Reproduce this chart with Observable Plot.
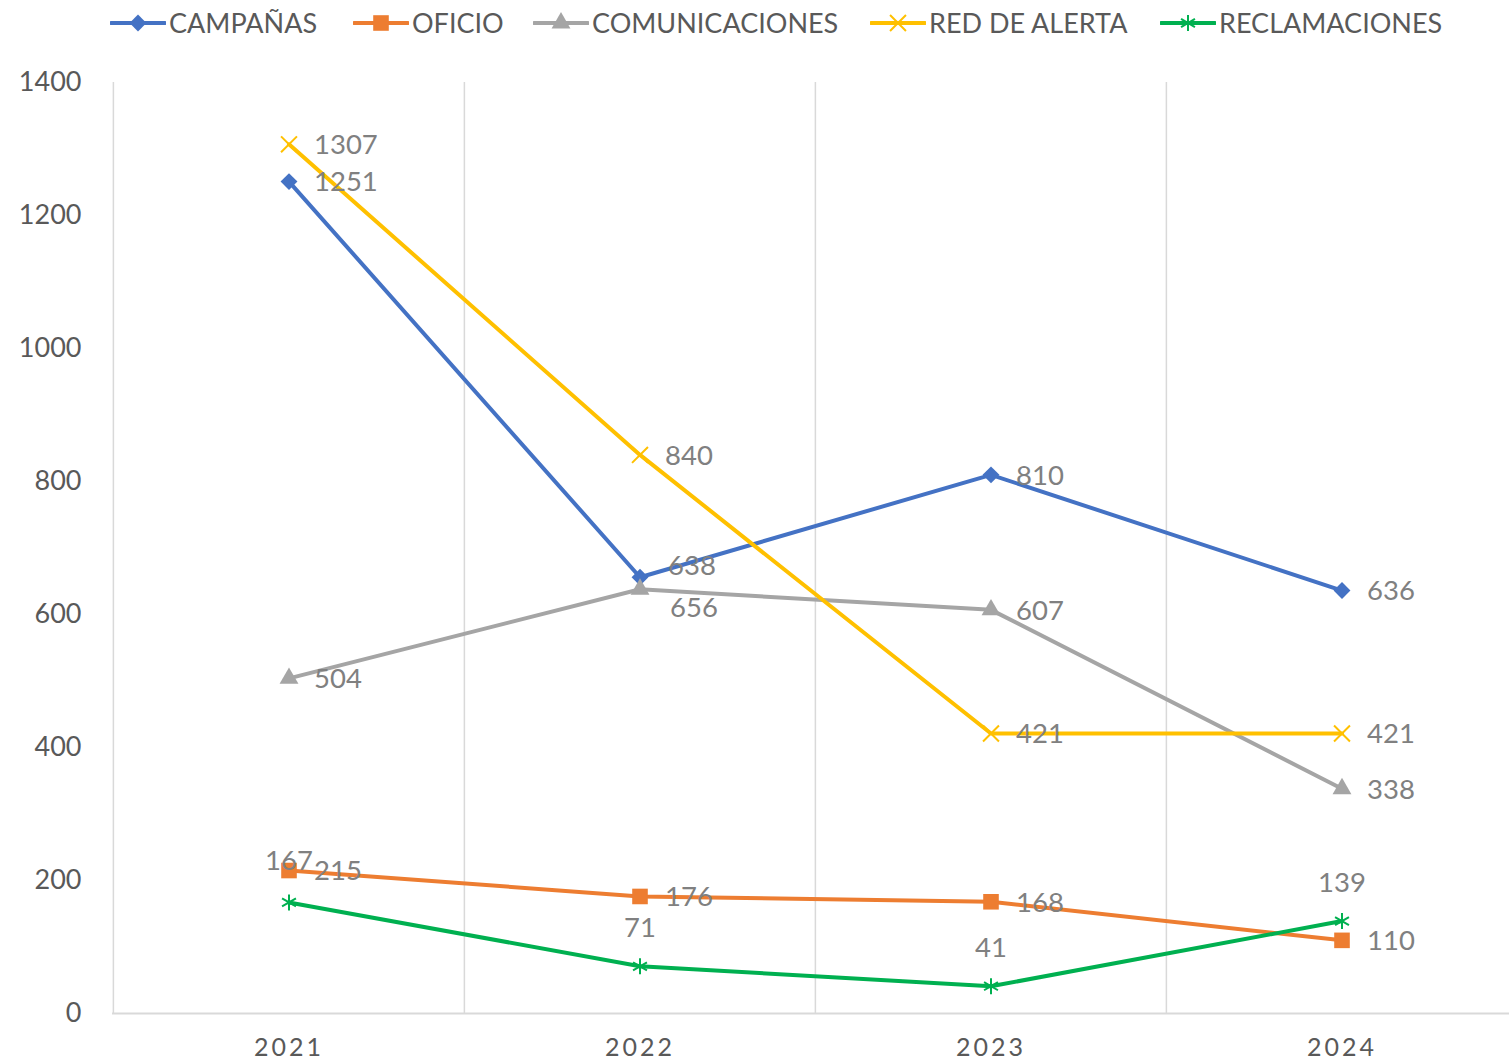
<!DOCTYPE html>
<html>
<head>
<meta charset="utf-8">
<script src="https://cdn.jsdelivr.net/npm/d3@7"></script>
<script src="https://cdn.jsdelivr.net/npm/@observablehq/plot@0.6"></script>
<style>
  html, body { margin: 0; padding: 0; background: #fff; }
  body { width: 1509px; height: 1063px; overflow: hidden; font-family: Lato, "Open Sans", sans-serif; }
  #legend { position: relative; height: 45px; width: 1509px; }
  .item { position: absolute; top: 0; height: 45px; display: flex; align-items: center; font-size: 27px; color: #595959; }
  .item svg { margin-right: 3px; }
  #chart svg { display: block; }
  #chart g[aria-label="x-axis tick label"] text { letter-spacing: 3px; }
</style>
</head>
<body>
<div id="legend"></div>
<div id="chart"></div>
<script>
const years = ["2021", "2022", "2023", "2024"];
const seriesNames = ["CAMPAÑAS", "OFICIO", "COMUNICACIONES", "RED DE ALERTA", "RECLAMACIONES"];
const campanas = [1251, 656, 810, 636];
const oficio = [215, 176, 168, 110];
const comunicaciones = [504, 638, 607, 338];
const redAlerta = [1307, 840, 421, 421];
const reclamaciones = [167, 71, 41, 139];
const yTicks = [0, 200, 400, 600, 800, 1000, 1200, 1400];

const seriesValues = [campanas, oficio, comunicaciones, redAlerta, reclamaciones];
const colors = ["#4472C4", "#ED7D31", "#A5A5A5", "#FFC000", "#00B050"];
const symbols = ["diamond2", "square", "triangle", "times", "asterisk"];
const filled = [true, true, true, false, false];
const radii = [7.6, 8.8, 7.0, 7.3, 7.6];

const data = [];
seriesNames.forEach((s, i) => years.forEach((y, j) => data.push({series: s, year: y, value: seriesValues[i][j]})));

// label placement logic (Excel-style)
function labelPos(d) {
  if (d.series === "RECLAMACIONES") return {dx: 0, dy: d.year === "2021" ? -41 : -38, anchor: "middle"};
  if (d.series === "CAMPAÑAS" && d.year === "2022") return {dx: 30, dy: 31, anchor: "start"};
  if (d.series === "COMUNICACIONES" && d.year === "2022") return {dx: 28, dy: -23, anchor: "start"};
  return {dx: 25, dy: 1, anchor: "start"};
}

const W = 1509, H = 1018;
const xRange = [112, 1517];
const bw = (xRange[1] - xRange[0]) / years.length;

const marks = [
  Plot.ruleX(years, {x: d => d, dx: -bw / 2, stroke: "#d9d9d9", strokeWidth: 1.5}),
  Plot.ruleY([0], {stroke: "#d9d9d9", strokeWidth: 2}),
  Plot.axisY({ticks: yTicks, tickSize: 0, tickPadding: 31, fontSize: 27, color: "#595959", label: null, tickFormat: d => String(d)}),
  Plot.axisX({tickSize: 0, tickPadding: 25, fontSize: 25, color: "#595959", label: null}),
  Plot.line(data, {x: "year", y: "value", z: "series", stroke: "series", strokeWidth: 4, strokeLinejoin: "round"})
];
seriesNames.forEach((s, i) => {
  const sub = data.filter(d => d.series === s);
  marks.push(Plot.dot(sub, {
    x: "year", y: "value", symbol: () => symbols[i], r: radii[i],
    fill: filled[i] ? colors[i] : "none", stroke: colors[i], strokeWidth: filled[i] ? 0 : 2
  }));
});
// labels grouped by placement
const groups = d3.groups(data, d => JSON.stringify(labelPos(d)));
groups.forEach(([key, arr]) => {
  const p = JSON.parse(key);
  marks.push(Plot.text(arr, {
    x: "year", y: "value", text: d => String(d.value), dx: p.dx, dy: p.dy,
    textAnchor: p.anchor, lineAnchor: "middle", fontSize: 27.5, fill: "#808080"
  }));
});

const chart = Plot.plot({
  width: W, height: H,
  marginTop: 37, marginBottom: 50, marginLeft: 112, marginRight: 0,
  style: {fontFamily: "Lato, 'Open Sans', sans-serif", background: "#fff", overflow: "visible"},
  x: {type: "band", domain: years, range: xRange, padding: 0},
  y: {domain: [0, 1400], axis: null},
  color: {domain: seriesNames, range: colors},
  marks
});
document.getElementById("chart").appendChild(chart);

// legend
const legendX = [110, 353, 533, 870, 1160];
const leg = d3.select("#legend");
seriesNames.forEach((s, i) => {
  const item = leg.append("div").attr("class", "item").style("left", legendX[i] + "px");
  const sv = item.append("svg").attr("width", 56).attr("height", 24);
  sv.append("line").attr("x1", 1).attr("x2", 55).attr("y1", 12).attr("y2", 12)
    .attr("stroke", colors[i]).attr("stroke-width", 4).attr("stroke-linecap", "round");
  const sym = d3.symbol().type({
    diamond2: d3.symbolDiamond2, square: d3.symbolSquare, triangle: d3.symbolTriangle,
    times: d3.symbolTimes, asterisk: d3.symbolAsterisk
  }[symbols[i]]).size(Math.PI * radii[i] * radii[i]);
  sv.append("path").attr("d", sym()).attr("transform", "translate(28,12)")
    .attr("fill", filled[i] ? colors[i] : "none").attr("stroke", colors[i]).attr("stroke-width", filled[i] ? 0 : 2);
  item.append("span").text(s);
});
</script>
</body>
</html>
